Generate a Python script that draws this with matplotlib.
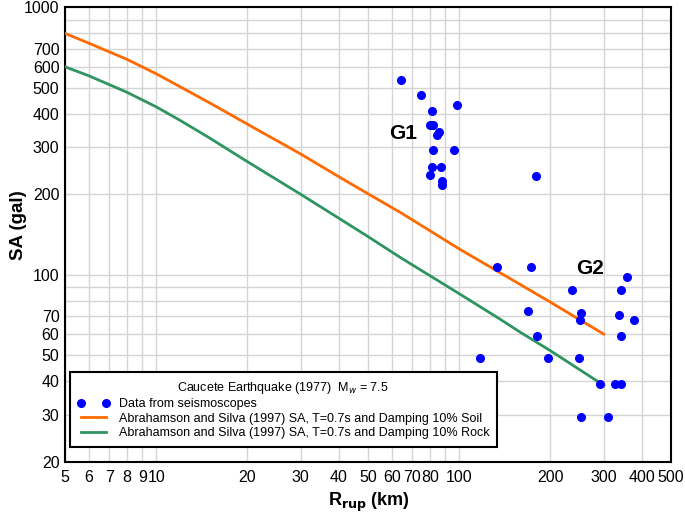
import matplotlib
matplotlib.use('Agg')
import matplotlib.pyplot as plt
from matplotlib.ticker import FixedLocator, NullFormatter

plt.rcParams['font.family'] = ['Liberation Sans', 'DejaVu Sans']

# data
obs_r = [64, 75, 98, 81, 80, 82, 86, 84.5, 82, 96, 81, 87, 80, 88, 88,
         179, 133, 172, 359, 236, 343, 168, 252, 250, 336, 377, 180, 343,
         117, 196, 249, 292, 326, 343, 252, 309]
obs_sa = [536, 470, 431, 410, 363, 362, 342, 333, 294, 294, 254, 254, 236, 225, 216,
          234, 107, 107, 98, 88, 88, 73, 72, 68, 71, 68, 59, 59,
          49, 49, 49, 39, 39, 39, 29.3, 29.3]

curve_r = [5, 6, 8, 10, 12, 15, 20, 30, 40, 50, 64, 100, 136, 159, 200, 300]
soil_sa = [800, 735, 640, 565, 505, 440, 366, 283, 233, 201, 171, 125, 102, 92, 79, 60]
rock_sa = [600, 555, 482, 425, 378, 325, 265, 200, 163, 139, 116, 85, 68.4, 61, 52, 38.6]

xticks = [5, 6, 7, 8, 9, 10, 20, 30, 40, 50, 60, 70, 80, 90, 100, 200, 300, 400, 500]
xlabels = ['5', '6', '7', '8', '9', '10', '20', '30', '40', '50', '60', '70', '80', '',
           '100', '200', '300', '400', '500']
yticks = [20, 30, 40, 50, 60, 70, 100, 200, 300, 400, 500, 600, 700, 1000]
yminor = [80, 90, 800, 900]

fig = plt.figure(figsize=(6.85, 5.17), dpi=100)
ax = fig.add_axes([0.0949, 0.107, 0.8847, 0.8785])

ax.plot(curve_r, soil_sa, color='#ff6a00', lw=2,
        label='Abrahamson and Silva (1997) SA, T=0.7s and Damping 10% Soil', zorder=3)
ax.plot(curve_r, rock_sa, color='#2e9461', lw=2,
        label='Abrahamson and Silva (1997) SA, T=0.7s and Damping 10% Rock', zorder=3)
ax.plot(obs_r, obs_sa, 'o', color='#0000ff', ms=5.5, ls='none',
        label='Data from seismoscopes', zorder=4)

ax.set_xscale('log')
ax.set_yscale('log')
ax.set_xlim(5, 500)
ax.set_ylim(20, 1000)

ax.xaxis.set_major_locator(FixedLocator(xticks))
ax.xaxis.set_minor_locator(FixedLocator([]))
ax.set_xticklabels(xlabels)
ax.yaxis.set_major_locator(FixedLocator(yticks))
ax.yaxis.set_minor_locator(FixedLocator(yminor))
ax.yaxis.set_minor_formatter(NullFormatter())
ax.set_yticklabels([str(t) for t in yticks])

ax.grid(True, which='both', color='#d4d4d4', lw=1, zorder=0)
ax.set_axisbelow(True)
ax.tick_params(which='both', length=0, labelsize=11.5, pad=4)
ax.tick_params(axis='x', pad=6)
for s in ax.spines.values():
    s.set_linewidth(1.5)

ax.set_xlabel(r'R$_{\mathbf{rup}}$ (km)', fontsize=13, fontweight='bold')
ax.xaxis.set_label_coords(0.502, -0.064)
ax.set_ylabel('SA (gal)', fontsize=13.5, fontweight='bold')
ax.yaxis.set_label_coords(-0.062, 0.52)

ax.text(58.6, 339, 'G1', fontsize=15, fontweight='bold', ha='left', va='center')
ax.text(243, 106, 'G2', fontsize=15, fontweight='bold', ha='left', va='center')

h, l = ax.get_legend_handles_labels()
order = [2, 0, 1]
leg = ax.legend([h[i] for i in order], [l[i] for i in order],
                title=r'Caucete Earthquake (1977)  M$_w$ = 7.5',
                loc='upper left', bbox_to_anchor=(0.008, 0.197),
                numpoints=2, fontsize=9, title_fontsize=9,
                fancybox=False, framealpha=1, edgecolor='black',
                handlelength=2.6, labelspacing=0.2, borderpad=0.6,
                handletextpad=0.7, borderaxespad=0)
leg.get_frame().set_linewidth(1.5)

fig.savefig('out.png', dpi=100)
